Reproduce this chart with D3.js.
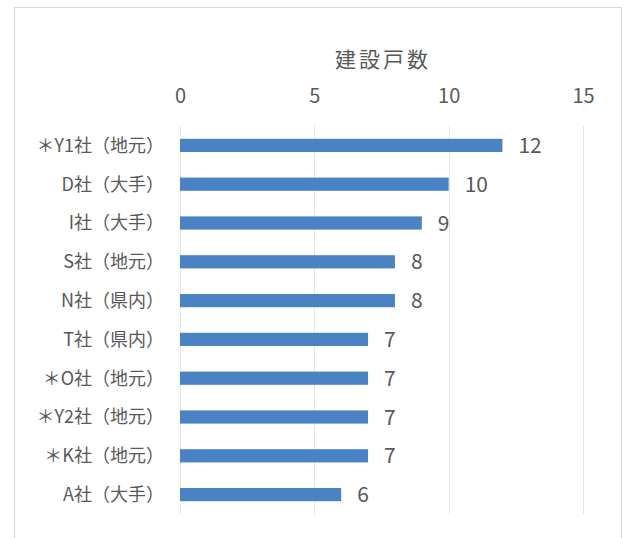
<!DOCTYPE html>
<html>
<head>
<meta charset="utf-8">
<script src="https://cdn.jsdelivr.net/npm/d3@7"></script>
<style>
  html, body { margin: 0; padding: 0; background: #fff; }
  svg { display: block; }
  text { font-family: "Noto Sans CJK JP", "Noto Sans", sans-serif; fill: #595959; }
</style>
</head>
<body>
<svg id="chart" width="624" height="538"></svg>
<script>
// Builders ranked by number of houses built
const companies = ["＊Y1社（地元）", "D社（大手）", "I社（大手）", "S社（地元）", "N社（県内）",
                   "T社（県内）", "＊O社（地元）", "＊Y2社（地元）", "＊K社（地元）", "A社（大手）"];
const houses = [12, 10, 9, 8, 8, 7, 7, 7, 7, 6];
const tickValues = [0, 5, 10, 15];
const axisTitle = "建設戸数";

const svg = d3.select("#chart");
const plot = { left: 180, right: 583, top: 126, bottom: 514 };

// Chart area frame
svg.append("rect")
  .attr("x", 14.5).attr("y", 7.5)
  .attr("width", 607).attr("height", 540)
  .attr("fill", "#fff").attr("stroke", "#d9d9d9").attr("stroke-width", 1);

const x = d3.scaleLinear().domain([0, 15]).range([plot.left, plot.right]);
const y = d3.scaleBand().domain(companies).range([plot.top, plot.bottom]).paddingInner(0.66).paddingOuter(0.33);

// Vertical gridlines
svg.append("g")
  .selectAll("line")
  .data(tickValues)
  .join("line")
  .attr("x1", d => Math.round(x(d)) + 0.5)
  .attr("x2", d => Math.round(x(d)) + 0.5)
  .attr("y1", plot.top)
  .attr("y2", plot.bottom)
  .attr("stroke", "#e6e6e6")
  .attr("stroke-width", 1);

// Top axis tick labels
const axis = d3.axisTop(x).tickValues(tickValues).tickSize(0).tickPadding(0);
const gAxis = svg.append("g").attr("transform", "translate(0,103)").call(axis);
gAxis.select(".domain").remove();
gAxis.selectAll("text")
  .attr("font-size", 20)
  .attr("dy", 0)
  .style("font-family", '"Noto Sans CJK JP", "Noto Sans", sans-serif')
  .attr("fill", "#595959");

// Axis title
svg.append("text")
  .attr("x", (plot.left + plot.right) / 2 + 1.5)
  .attr("y", 67)
  .attr("text-anchor", "middle")
  .attr("font-size", 21)
  .attr("letter-spacing", 3)
  .text(axisTitle);

// Category labels
svg.append("g")
  .selectAll("text")
  .data(companies)
  .join("text")
  .attr("x", plot.left - 16)
  .attr("y", d => y(d) + y.bandwidth() / 2)
  .attr("dy", "0.36em")
  .attr("text-anchor", "end")
  .attr("font-size", 18)
  .text(d => d);

// Bars
svg.append("g")
  .selectAll("rect")
  .data(houses)
  .join("rect")
  .attr("x", x(0))
  .attr("y", (d, i) => y(companies[i]))
  .attr("width", d => x(d) - x(0))
  .attr("height", y.bandwidth())
  .attr("fill", "#4a82c3");

// Value labels
svg.append("g")
  .selectAll("text")
  .data(houses)
  .join("text")
  .attr("x", d => x(d) + 16)
  .attr("y", (d, i) => y(companies[i]) + y.bandwidth() / 2)
  .attr("dy", "0.36em")
  .attr("font-size", 21)
  .text(d => d);
</script>
</body>
</html>
